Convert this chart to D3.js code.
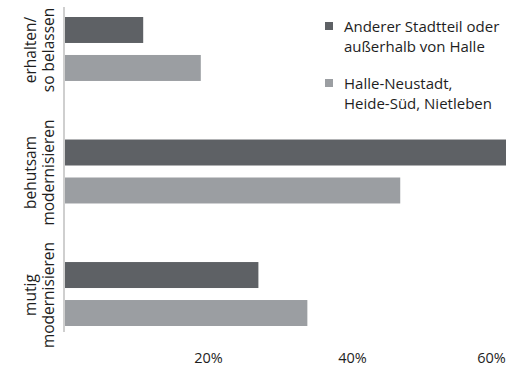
<!DOCTYPE html>
<html>
<head>
<meta charset="utf-8">
<script src="https://cdn.jsdelivr.net/npm/d3@7"></script>
<style>
  body { margin: 0; background: #fff; }
  svg text { font-family: "Open Sans", sans-serif; fill: #1e1e1e; }
</style>
</head>
<body>
<div id="chart"></div>
<script>

var categories = [["erhalten/", "so belassen"], ["behutsam", "modernisieren"], ["mutig", "modernisieren"]];
var seriesNames = ["Anderer Stadtteil oder|außerhalb von Halle", "Halle-Neustadt,|Heide-Süd, Nietleben"];
var anderer = [11, 62, 27];
var neustadt = [19, 46.7, 33.8];
var tickValues = [20, 40, 60];

var width = 506, height = 366;
var colors = ["#5e6165", "#9b9ea2"];

var svg = d3.select("#chart")
  .append("svg")
  .attr("width", width)
  .attr("height", height);

var x = d3.scaleLinear()
  .domain([0, 60])
  .range([64, 496]);

var y = d3.scaleBand()
  .domain(d3.range(categories.length))
  .range([17, 326])
  .paddingInner(0.478)
  .paddingOuter(0);

var ySub = d3.scaleBand()
  .domain([0, 1])
  .range([0, y.bandwidth()])
  .paddingInner(0.316);

var series = [anderer, neustadt];

// bars
series.forEach(function(vals, s) {
  svg.selectAll(".bar" + s)
    .data(vals)
    .enter().append("rect")
    .attr("class", "bar" + s)
    .attr("x", x(0))
    .attr("y", function(d, i) { return y(i) + ySub(s); })
    .attr("width", function(d) { return x(d) - x(0); })
    .attr("height", ySub.bandwidth())
    .style("fill", colors[s]);
});

// vertical axis line
svg.append("line")
  .attr("x1", 64).attr("x2", 64)
  .attr("y1", 7).attr("y2", 332)
  .style("stroke", "#cfcfcf")
  .style("stroke-width", 2);

// x tick labels
var xAxis = d3.axisBottom(x)
  .tickValues(tickValues)
  .tickSize(0)
  .tickFormat(function(d) { return d + "%"; });

var gx = svg.append("g")
  .attr("transform", "translate(0,350)")
  .call(xAxis);
gx.select(".domain").remove();
gx.selectAll("text")
  .attr("dy", 0)
  .attr("y", 13)
  .style("font-size", "14.5px")
  .style("font-family", "Open Sans, sans-serif")
  .style("fill", "#1e1e1e");
// keep last label inside the window
gx.selectAll("text")
  .filter(function(d) { return d === 60; })
  .attr("dx", -5);

// category labels (rotated)
categories.forEach(function(lines, i) {
  var cy = y(i) + y.bandwidth() / 2 + 1;
  var t = svg.append("text")
    .attr("transform", "translate(0," + cy + ") rotate(-90)")
    .attr("text-anchor", "middle")
    .style("font-size", "15.5px");
  lines.forEach(function(l, j) {
    t.append("tspan")
      .attr("x", 0)
      .attr("y", 36 + j * 18)
      .text(l);
  });
});

// legend
var legendY = [22, 79];
series.forEach(function(vals, s) {
  var g = svg.append("g")
    .attr("transform", "translate(325," + legendY[s] + ")");
  g.append("rect")
    .attr("width", 8).attr("height", 8)
    .style("fill", colors[s]);
  var lines = seriesNames[s].split("|");
  lines.forEach(function(l, j) {
    g.append("text")
      .attr("x", 19)
      .attr("y", 9.5 + j * 20.5)
      .style("font-size", "15px")
      .text(l);
  });
});

</script>
</body>
</html>
